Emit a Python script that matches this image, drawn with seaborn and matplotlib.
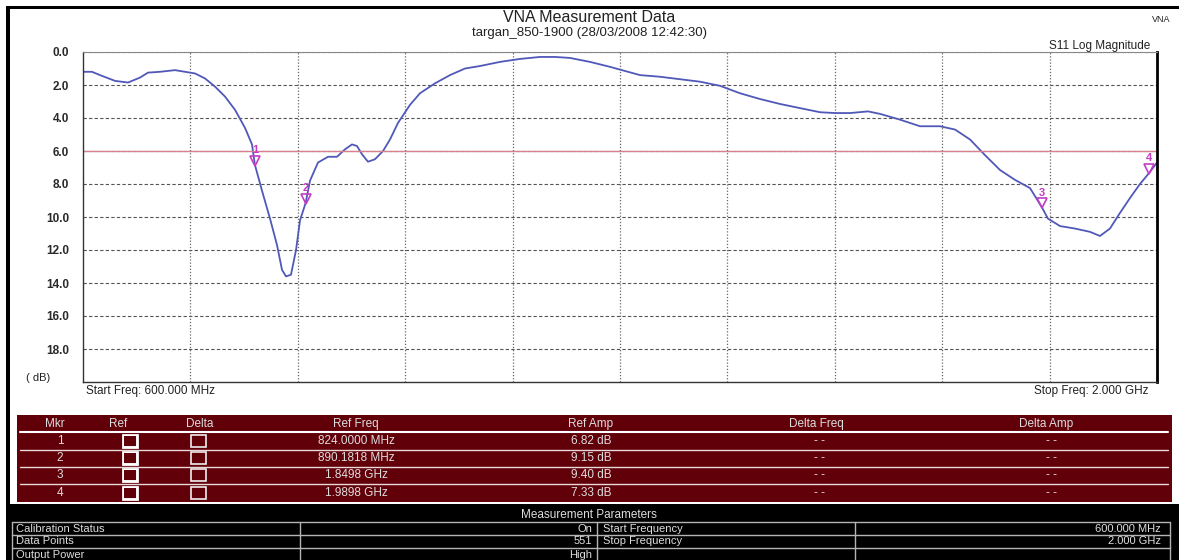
import numpy as np
import matplotlib
matplotlib.use("Agg")
import matplotlib.pyplot as plt
import matplotlib.transforms as mtransforms
from matplotlib.patches import Rectangle
from matplotlib.lines import Line2D
import seaborn as sns

# trace of S11 (dB, shown as positive return loss)
freq_mhz = [600.0, 611.7, 622.2, 641.7, 658.7, 674.3, 684.7, 700.4, 719.9, 733.0,
            746.0, 759.0, 772.1, 785.1, 798.1, 811.2, 820.3, 824.0, 833.3, 843.8,
            852.9, 859.4, 864.6, 871.1, 877.7, 882.9, 890.2, 895.9, 906.3, 919.4,
            931.1, 941.5, 950.7, 957.2, 963.7, 971.5, 980.6, 991.1, 1000.2, 1010.6,
            1026.3, 1039.3, 1058.8, 1078.4, 1098.0, 1117.5, 1143.6, 1169.6, 1195.7, 1215.3,
            1234.8, 1260.9, 1287.0, 1306.5, 1326.1, 1352.1, 1378.2, 1404.3, 1430.4, 1456.4,
            1482.5, 1508.6, 1534.6, 1560.7, 1580.3, 1599.8, 1623.3, 1638.9, 1665.0, 1691.1,
            1717.1, 1736.7, 1756.2, 1775.8, 1795.3, 1814.9, 1834.5, 1849.8, 1857.9, 1873.6,
            1893.1, 1912.7, 1925.7, 1938.7, 1951.8, 1964.8, 1977.8, 1989.8, 2000.0]
s11_db = [1.2, 1.2, 1.4, 1.75, 1.85, 1.55, 1.25, 1.2, 1.1, 1.2,
          1.3, 1.6, 2.1, 2.7, 3.5, 4.6, 5.6, 6.82, 8.4, 10.1,
          11.7, 13.2, 13.6, 13.5, 12.0, 10.2, 9.15, 7.8, 6.7, 6.35,
          6.35, 5.9, 5.6, 5.7, 6.2, 6.65, 6.5, 6.0, 5.3, 4.3,
          3.2, 2.5, 1.9, 1.4, 1.0, 0.85, 0.6, 0.42, 0.3, 0.3,
          0.36, 0.6, 0.9, 1.15, 1.4, 1.5, 1.65, 1.8, 2.05, 2.5,
          2.85, 3.15, 3.4, 3.65, 3.7, 3.7, 3.6, 3.75, 4.1, 4.5,
          4.5, 4.7, 5.3, 6.25, 7.15, 7.75, 8.25, 9.4, 10.1, 10.55,
          10.7, 10.9, 11.15, 10.7, 9.75, 8.85, 8.0, 7.33, 6.7]

ref_level = 6.0
grid_freqs = [740, 880, 1020, 1160, 1300, 1440, 1580, 1720, 1860]
y_ticks = [0, 2, 4, 6, 8, 10, 12, 14, 16, 18]

mkr_ids = [1, 2, 3, 4]
mkr_freq = [824.0, 890.1818, 1849.8, 1989.8]
mkr_amp = [6.82, 9.15, 9.40, 7.33]
mkr_freq_text = ["824.0000 MHz", "890.1818 MHz", "1.8498 GHz", "1.9898 GHz"]
mkr_amp_text = ["6.82 dB", "9.15 dB", "9.40 dB", "7.33 dB"]
table_header = ["Mkr", "Ref", "Delta", "Ref Freq", "Ref Amp", "Delta Freq", "Delta Amp"]

param_left_labels = ["Calibration Status", "Data Points", "Output Power"]
param_left_values = ["On", "551", "High"]
param_right_labels = ["Start Frequency", "Stop Frequency", ""]
param_right_values = ["600.000 MHz", "2.000 GHz", ""]

sns.set_style("white")
plt.rcParams["font.family"] = ["Liberation Sans", "DejaVu Sans"]

W, H = 1179, 560
fig = plt.figure(figsize=(W / 100, H / 100), dpi=100)


def fx(x):
    return x / W


def fy(y):
    return 1 - y / H


def box(x0, y0, x1, y1, **kw):
    fig.add_artist(Rectangle((fx(x0), fy(y1)), (x1 - x0) / W, (y1 - y0) / H,
                             transform=fig.transFigure, **kw))


def hline(x0, x1, y, **kw):
    fig.add_artist(Line2D([fx(x0), fx(x1)], [fy(y), fy(y)], transform=fig.transFigure, **kw))


def vline(x, y0, y1, **kw):
    fig.add_artist(Line2D([fx(x), fx(x)], [fy(y0), fy(y1)], transform=fig.transFigure, **kw))


def label(x, y, s, **kw):
    kw.setdefault("va", "center")
    fig.text(fx(x), fy(y), s, **kw)


# outer frame (thick black top and left edges)
box(6, 6, W, 9, facecolor="black", edgecolor="none")
box(6, 6, 10, H, facecolor="black", edgecolor="none")

# main plot
ax = fig.add_axes([fx(83), fy(382), (1157 - 83) / W, (382 - 52) / H])
sns.lineplot(x=freq_mhz, y=s11_db, ax=ax, color="#5058b8", lw=1.3)
ax.set_xlim(600, 2000)
ax.set_ylim(20, 0)
ax.set_xticks(grid_freqs)
ax.set_xticklabels([])
ax.set_yticks(y_ticks)
ax.set_yticklabels(["%.1f" % v for v in y_ticks], fontsize=8.5, fontweight="bold", color="#2a2a2a")
ax.tick_params(length=0, pad=10)
ax.yaxis.grid(True, ls=(0, (3, 2)), color="#555555", lw=0.8)
ax.xaxis.grid(True, ls=(0, (1, 1.5)), color="#666666", lw=0.9)
for side in ["left", "bottom"]:
    ax.spines[side].set_color("#333333")
    ax.spines[side].set_linewidth(1)
ax.spines["top"].set_color("#888888")
ax.spines["top"].set_linewidth(0.8)
ax.spines["right"].set_color("black")
ax.spines["right"].set_linewidth(2)
ax.axhline(ref_level, color="#d9808e", lw=1)

tri = mtransforms.offset_copy(ax.transData, fig=fig, x=0, y=4, units="dots")
for n, f, a in zip(mkr_ids, mkr_freq, mkr_amp):
    ax.plot(f, a, marker="v", ms=7, mfc="none", mec="#c43cc4", mew=1.2, transform=tri, clip_on=False)
    ax.annotate(str(n), (f, a), xytext=(0, 10.5), textcoords="offset points", ha="center",
                va="center", color="#c43cc4", fontsize=8, fontweight="bold")
ax.set_xlabel("")
ax.set_ylabel("")

# titles and captions
label(589, 17, "VNA Measurement Data", ha="center", fontsize=11.5, color="#222222")
label(590, 33, "targan_850-1900 (28/03/2008 12:42:30)", ha="center", fontsize=9.5, color="#222222")
label(1161, 19, "VNA", ha="center", fontsize=6.5, color="#222222")
label(1150, 46, "S11 Log Magnitude", ha="right", fontsize=8.5, color="#222222")
label(38, 378, "( dB)", ha="center", fontsize=8, color="#222222")
label(86, 391, "Start Freq: 600.000 MHz", ha="left", fontsize=8.5, color="#222222")
label(1148, 391, "Stop Freq: 2.000 GHz", ha="right", fontsize=8.5, color="#222222")

# marker table
maroon = "#62000a"
txt = "#dddddd"
box(17, 415, 1172, 502, facecolor=maroon, edgecolor="none")
col_x = [55, 118, 200, 356, 591, 816, 1046]
for x, s in zip(col_x, table_header):
    label(x, 424, s, ha="center", fontsize=8.5, color=txt)
hline(20, 1168, 432, color="white", lw=1.5)
row_y = [441, 458, 475, 493]
for i, y in enumerate(row_y):
    label(col_x[0] + 5, y, str(mkr_ids[i]), ha="center", fontsize=8.5, color=txt)
    box(123, y - 6, 137, y + 6, facecolor="#9a8a8c", edgecolor="white", lw=2)
    box(124, y - 5, 136, y + 5, facecolor=maroon, edgecolor="none")
    box(191, y - 6, 206, y + 6, facecolor="none", edgecolor="#eeeeee", lw=1.2)
    label(col_x[3], y, mkr_freq_text[i], ha="center", fontsize=8.5, color=txt)
    label(col_x[4], y, mkr_amp_text[i], ha="center", fontsize=8.5, color=txt)
    label(col_x[5] + 4, y, "- -", ha="center", fontsize=8.5, color=txt)
    label(col_x[6] + 6, y, "- -", ha="center", fontsize=8.5, color=txt)
    if i < 3:
        hline(20, 1168, y + 8.5, color="#e8d8d8", lw=1)

# measurement parameters
box(6, 504, W, H, facecolor="black", edgecolor="none")
label(589, 515, "Measurement Parameters", ha="center", fontsize=8.5, color=txt)
grid_c = "#b4b4b4"
for y in [522, 535, 548]:
    hline(12, 1170, y, color=grid_c, lw=1)
for x in [12, 300, 597, 855, 1170]:
    vline(x, 522, H, color=grid_c, lw=1)
for i, y in enumerate([528.5, 541.5, 554.5]):
    label(16, y, param_left_labels[i], ha="left", fontsize=8, color=txt)
    label(592, y, param_left_values[i], ha="right", fontsize=8, color=txt)
    label(603, y, param_right_labels[i], ha="left", fontsize=8, color=txt)
    label(1161, y, param_right_values[i], ha="right", fontsize=8, color=txt)

fig.savefig("out.png", dpi=100)
